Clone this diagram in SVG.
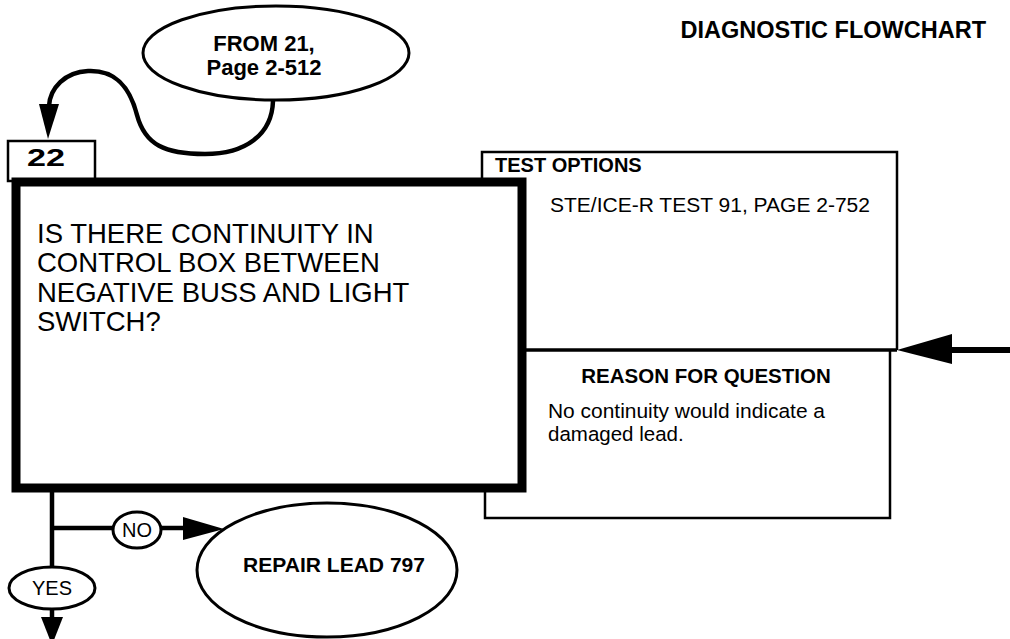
<svg xmlns="http://www.w3.org/2000/svg" width="1010" height="639" viewBox="0 0 1010 639">
<style>
text{font-family:"Liberation Sans",Arial,sans-serif;fill:#000}
.b{font-weight:bold}
.thin{fill:none;stroke:#000;stroke-width:2.5}
.shape{fill:#fff;stroke:#000;stroke-width:3}
.conn{fill:none;stroke:#000;stroke-width:4.5}
.head{fill:#000;stroke:none}
</style>
<rect width="1010" height="639" fill="#fff"/>
<g id="title"><text class="b" x="986" y="38" font-size="23.5" text-anchor="end">DIAGNOSTIC FLOWCHART</text></g>
<g id="connectors">
<path class="conn" d="M273,101 C272,135 245,154 205,154 C165,154 145,145 137,115 C128,80 110,70 88,71 C65,72 50,88 49,106"/>
<polygon class="head" points="39,104 59,104 48,139"/>
<line class="conn" x1="52" y1="490" x2="52" y2="568"/>
<line class="conn" x1="52" y1="528" x2="114" y2="528"/>
<line class="conn" x1="160" y1="528" x2="186" y2="528"/>
<polygon class="head" points="183,517 183,540 224,529"/>
<line class="conn" x1="52" y1="609" x2="52" y2="620"/>
<polygon class="head" points="41,617 63,617 52,645"/>
<line x1="945" y1="350" x2="1010" y2="350" stroke="#000" stroke-width="6"/>
<polygon class="head" points="897,350 952,334 952,364"/>
</g>
<g id="node-from">
<ellipse class="shape" cx="276" cy="53" rx="133" ry="47"/>
<text class="b" x="264" y="51" font-size="22" text-anchor="middle">FROM 21,</text>
<text class="b" x="264" y="75" font-size="22" text-anchor="middle">Page 2-512</text>
</g>
<g id="node-test-options">
<path class="thin" d="M482,182 V152 H897 V350"/>
<line x1="520" y1="350" x2="897" y2="350" stroke="#000" stroke-width="3.5"/>
<path class="thin" d="M890,350 V518 H485 V490"/>
<text class="b" x="495" y="172" font-size="20">TEST OPTIONS</text>
<text x="550" y="212" font-size="20" textLength="320" lengthAdjust="spacingAndGlyphs">STE/ICE-R TEST 91, PAGE 2-752</text>
<text class="b" x="706" y="383" font-size="20.5" text-anchor="middle">REASON FOR QUESTION</text>
<text x="548" y="418" font-size="20.5" textLength="277" lengthAdjust="spacingAndGlyphs">No continuity would indicate a</text>
<text x="548" y="441" font-size="20.5">damaged lead.</text>
</g>
<g id="node-22">
<rect class="thin" x="8" y="141" width="87" height="40" fill="#fff"/>
<text class="b" x="27" y="166" font-size="24" textLength="38" lengthAdjust="spacingAndGlyphs">22</text>
</g>
<g id="node-question">
<rect x="16" y="182" width="506" height="306" fill="none" stroke="#000" stroke-width="9"/>
<text x="37" y="243" font-size="27.5">IS THERE CONTINUITY IN</text>
<text x="37" y="272" font-size="27.5">CONTROL BOX BETWEEN</text>
<text x="37" y="302" font-size="27.5">NEGATIVE BUSS AND LIGHT</text>
<text x="37" y="331" font-size="27.5">SWITCH?</text>
</g>
<g id="node-no">
<ellipse class="shape" cx="137" cy="530" rx="24" ry="18"/>
<text x="137" y="537" font-size="20" text-anchor="middle">NO</text>
</g>
<g id="node-repair">
<ellipse class="shape" cx="327" cy="570" rx="130" ry="67"/>
<text class="b" x="334" y="572" font-size="19.5" text-anchor="middle" textLength="182" lengthAdjust="spacingAndGlyphs">REPAIR LEAD 797</text>
</g>
<g id="node-yes">
<ellipse class="shape" cx="52" cy="588" rx="43" ry="21"/>
<text x="52" y="595" font-size="20" text-anchor="middle">YES</text>
</g>
</svg>
